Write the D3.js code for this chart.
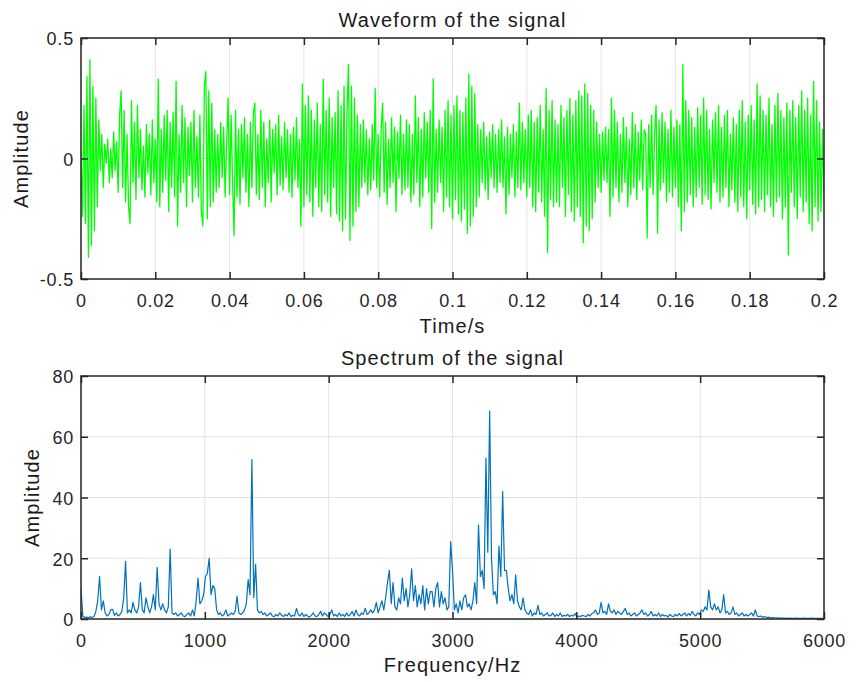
<!DOCTYPE html>
<html>
<head>
<meta charset="utf-8">
<script src="https://cdn.jsdelivr.net/npm/d3@7"></script>
<style>
  body { margin: 0; background: #fff; }
  text { font-family: "Liberation Sans", Arial, sans-serif; }
</style>
</head>
<body>
<svg id="chart" width="859" height="682"></svg>
<script>
// Waveform samples, one every 0.4 ms from 0 to 0.2 s
const waveStep = 0.0004;
const waveAmp = [
  0.03, -0.24, 0.22, -0.27, 0.34, -0.41, 0.41, -0.36, 0.3, -0.3, 0.25, -0.2, 0.16, -0.05, 0.1, -0.12, 0.06, -0.02, 0.08, -0.1,
  0.04, -0.08, 0.11, -0.05, 0.07, -0.14, 0.18, 0.28, -0.12, 0.2, -0.18, 0.1, -0.2, -0.27, 0.24, -0.1, 0.15, -0.17, 0.22, -0.08,
  0.12, -0.13, 0.05, -0.16, 0.14, -0.06, 0.1, -0.15, 0.16, -0.1, 0.08, -0.18, 0.33, -0.2, 0.12, -0.14, 0.18, -0.09, 0.2, -0.22,
  0.15, -0.12, 0.19, -0.16, 0.32, -0.28, 0.1, -0.14, 0.22, -0.1, 0.17, -0.2, 0.13, -0.07, 0.15, -0.18, 0.2, -0.12, 0.09, -0.16,
  0.18, -0.22, -0.28, 0.3, 0.36, -0.25, 0.28, -0.2, 0.23, -0.18, 0.12, -0.14, 0.1, -0.12, 0.15, -0.08, 0.13, -0.16, 0.06, 0.25,
  -0.15, 0.18, -0.1, -0.32, 0.2, -0.16, 0.12, -0.19, 0.14, -0.08, 0.17, -0.14, 0.1, -0.2, 0.15, -0.12, 0.19, 0.23, -0.15, 0.1,
  -0.17, 0.2, -0.12, 0.15, -0.2, 0.08, -0.1, 0.16, -0.18, 0.12, -0.06, 0.14, -0.15, 0.18, -0.11, 0.09, -0.13, 0.15, -0.08, 0.12,
  -0.14, 0.1, -0.16, 0.13, -0.09, 0.17, -0.12, 0.08, -0.28, 0.31, -0.2, 0.22, -0.15, 0.26, -0.18, 0.2, -0.24, 0.16, -0.12, 0.23,
  -0.2, 0.14, -0.22, 0.33, -0.15, 0.2, -0.18, 0.25, -0.24, 0.17, -0.12, 0.19, -0.23, 0.28, -0.26, 0.22, -0.3, 0.3, -0.25, 0.2,
  0.39, -0.34, 0.3, -0.28, 0.25, -0.22, 0.18, -0.2, 0.14, -0.12, 0.16, -0.1, 0.12, -0.15, 0.08, -0.13, 0.14, -0.09, 0.29, -0.12,
  0.1, -0.16, 0.12, 0.23, -0.14, 0.15, -0.19, 0.08, -0.12, 0.17, -0.1, 0.13, -0.22, 0.11, -0.08, 0.18, -0.15, 0.1, -0.13, 0.16,
  -0.12, 0.14, -0.18, 0.1, -0.15, 0.26, -0.1, 0.17, -0.2, 0.12, -0.16, 0.19, -0.08, 0.15, -0.14, 0.2, -0.29, 0.33, -0.18, 0.12,
  -0.14, 0.16, -0.1, 0.13, -0.22, 0.2, -0.16, 0.24, -0.2, 0.18, -0.25, 0.22, -0.17, 0.26, -0.23, 0.2, -0.26, 0.19, -0.21, 0.25,
  -0.31, 0.35, -0.28, 0.3, -0.24, 0.27, -0.2, 0.14, -0.16, 0.12, -0.1, 0.15, -0.13, 0.09, -0.17, 0.11, -0.08, 0.14, -0.12, 0.1,
  -0.14, 0.12, -0.1, 0.16, -0.12, 0.09, -0.23, 0.13, -0.15, 0.1, -0.08, 0.14, -0.16, 0.11, -0.12, 0.23, -0.13, 0.15, -0.1, 0.12,
  -0.16, 0.18, -0.12, 0.2, -0.2, 0.15, -0.22, 0.17, -0.14, 0.22, -0.18, 0.12, -0.24, 0.29, -0.39, 0.2, -0.17, 0.24, -0.2, 0.16,
  -0.18, 0.14, -0.2, 0.22, -0.12, 0.17, -0.24, 0.2, -0.15, 0.25, -0.22, 0.18, -0.26, 0.24, -0.2, 0.28, -0.24, 0.26, -0.35, 0.31,
  -0.28, 0.27, -0.3, 0.22, -0.25, 0.2, -0.18, 0.15, -0.12, 0.1, -0.14, 0.11, -0.09, 0.13, -0.1, 0.12, -0.24, 0.25, -0.16, 0.2,
  -0.12, 0.15, -0.18, 0.1, -0.14, 0.17, -0.1, 0.13, -0.2, 0.08, -0.15, 0.19, -0.12, 0.14, -0.17, 0.11, -0.09, 0.16, -0.13, 0.12,
  0.1, -0.33, 0.14, -0.12, 0.18, -0.15, 0.1, 0.22, -0.31, 0.16, -0.13, 0.19, -0.1, 0.15, -0.18, 0.12, -0.14, 0.2, -0.16, 0.13,
  -0.12, 0.16, -0.2, 0.14, -0.3, 0.39, -0.22, 0.24, -0.18, 0.2, -0.15, 0.17, -0.2, 0.13, -0.16, 0.21, -0.12, 0.18, -0.19, 0.25,
  -0.15, 0.2, -0.17, 0.12, -0.21, 0.16, -0.1, 0.19, -0.14, 0.22, -0.18, 0.13, -0.16, 0.18, -0.12, 0.2, -0.2, 0.1, -0.13, 0.17,
  -0.18, 0.14, -0.22, 0.2, -0.16, 0.24, -0.2, 0.15, -0.25, 0.18, -0.13, 0.22, -0.19, 0.16, -0.23, 0.31, -0.2, 0.26, -0.17, 0.2,
  -0.22, 0.18, -0.15, 0.25, -0.2, 0.14, -0.24, 0.22, -0.18, 0.27, -0.16, 0.2, -0.25, 0.17, -0.2, 0.23, -0.4, 0.2, -0.14, 0.24,
  -0.2, 0.17, -0.25, 0.22, -0.16, 0.28, -0.22, 0.2, -0.18, 0.25, -0.27, 0.18, -0.3, 0.32, -0.2, 0.24, -0.26, 0.15, -0.22, 0.12,
  -0.18
];

// Spectrum magnitudes, one bin every 15 Hz from 0 to 6000 Hz
const specStep = 15;
const specAmp = [
  10, 1, 0.5, 0.6, 0.4, 0.7, 0.5, 0.8, 2.5, 6,
  14, 3, 6, 2, 1, 1.5, 3, 3.2, 1.2, 2,
  1, 1.5, 2.5, 7, 19, 2, 3, 2, 5.5, 3,
  2, 4, 12, 3, 2, 7, 4, 2, 4, 8,
  3, 17, 5, 3, 5, 3, 2, 4, 23, 2,
  1.5, 2, 1, 1.5, 2, 1, 0.8, 1.5, 2, 1,
  3, 1, 6, 13.5, 5, 6, 8, 14, 15, 20,
  8, 11, 10, 3, 1.5, 2, 1, 1.5, 3, 1,
  1.5, 2, 1.5, 2.5, 7.5, 2, 1.5, 2, 3, 5,
  13, 8, 52.5, 7, 18, 3, 2, 2.5, 1.5, 2,
  1, 1.5, 2, 1, 0.8, 1.5, 1, 2, 1.2, 0.8,
  1.5, 1, 2, 0.8, 1.2, 1, 3.5, 1.5, 1, 2,
  0.8, 1.5, 1, 0.6, 1.2, 2, 1, 0.8, 1.5, 2.5,
  1, 2, 1.5, 0.8, 1.5, 3, 1, 1.5, 0.8, 2,
  1, 1.5, 0.8, 2, 1, 1.5, 2.5, 1, 3, 1.5,
  1, 2, 1.5, 3.5, 1.5, 2, 3, 2, 3, 5.5,
  2, 4, 6, 3, 7, 12, 16, 5, 12, 4,
  3, 7, 5, 13.5, 6, 10, 4, 8, 16.5, 6,
  11, 4, 8, 5, 11, 3, 10, 5, 9, 9,
  4, 10, 12, 4, 9, 5, 7, 3, 4, 25.5,
  16, 3, 5, 2, 6, 3, 7, 8, 4, 5,
  3, 6, 12, 5, 31, 14, 16, 10, 53, 22,
  68.5, 20, 8, 9, 5, 24, 14, 42, 16, 16,
  10, 6, 8, 5, 14.5, 6, 4, 3, 7, 3,
  2, 1.5, 3, 1, 2, 1.5, 4.5, 1.5, 2, 1,
  1.5, 2, 1, 1.2, 2, 0.8, 1.5, 1, 2, 0.8,
  1.2, 1, 1.5, 0.8, 1.2, 1, 1.8, 0.6, 1, 0.8,
  1.2, 1, 0.8, 1.5, 1, 1.8, 2, 3, 1.5, 2,
  5.5, 2, 2.5, 1.5, 5, 2.5, 2, 3, 1.5, 2.5,
  2, 1.5, 2.5, 3.5, 1.5, 2, 1, 1.5, 2, 1,
  1.5, 2, 3, 1.5, 2, 1, 1.5, 2.5, 1, 1.5,
  1, 2, 0.8, 1.5, 1, 1.2, 0.6, 1.5, 1, 0.8,
  1.5, 1, 1.8, 1, 1.5, 2, 1, 1.8, 1.2, 2.5,
  1.5, 1, 2, 1.5, 3, 2.5, 4, 3, 9.5, 4,
  3, 5, 3, 4, 2, 3, 8, 2, 2.5, 1.5,
  2, 4, 1.5, 2, 1, 1.5, 2, 1, 1.5, 1,
  1.5, 2, 1, 3, 1, 0.8, 1, 0.6, 0.8, 0.5,
  0.6, 0.4, 0.5, 0.4, 0.3, 0.4, 0.3, 0.3, 0.3, 0.2,
  0.3, 0.2, 0.3, 0.2, 0.2, 0.3, 0.2, 0.2, 0.2, 0.3,
  0.2, 0.2, 0.2, 0.3, 0.2, 0.2, 0.2, 0.2, 0.2, 0.2,
  0.2
];

// Ticks
const waveXTicks = [0, 0.02, 0.04, 0.06, 0.08, 0.1, 0.12, 0.14, 0.16, 0.18, 0.2];
const waveXLabels = ["0", "0.02", "0.04", "0.06", "0.08", "0.1", "0.12", "0.14", "0.16", "0.18", "0.2"];
const waveYTicks = [-0.5, 0, 0.5];
const waveYLabels = ["-0.5", "0", "0.5"];
const specXTicks = [0, 1000, 2000, 3000, 4000, 5000, 6000];
const specXLabels = ["0", "1000", "2000", "3000", "4000", "5000", "6000"];
const specYTicks = [0, 20, 40, 60, 80];
const specYLabels = ["0", "20", "40", "60", "80"];

const svg = d3.select("#chart");
const left = 81, right = 824;
const axisColor = "#262626";
const gridColor = "#e3e3e3";

function drawPanel(p) {
  const x = d3.scaleLinear().domain(p.xDomain).range([left, right]);
  const y = d3.scaleLinear().domain(p.yDomain).range([p.bottom, p.top]);
  const g = svg.append("g");

  // grid
  g.append("g").selectAll("line").data(p.xTicks).join("line")
    .attr("x1", d => x(d)).attr("x2", d => x(d))
    .attr("y1", p.top).attr("y2", p.bottom)
    .attr("stroke", gridColor).attr("stroke-width", 1);
  g.append("g").selectAll("line").data(p.yTicks).join("line")
    .attr("x1", left).attr("x2", right)
    .attr("y1", d => y(d)).attr("y2", d => y(d))
    .attr("stroke", gridColor).attr("stroke-width", 1);

  // data
  g.append("clipPath").attr("id", p.id + "-clip")
    .append("rect").attr("x", left).attr("y", p.top)
    .attr("width", right - left).attr("height", p.bottom - p.top);

  const line = d3.line()
    .x((d, i) => x(i * p.step))
    .y(d => y(d));

  g.append("path")
    .datum(p.values)
    .attr("clip-path", `url(#${p.id}-clip)`)
    .attr("d", line)
    .attr("fill", "none")
    .attr("stroke", p.color)
    .attr("stroke-width", p.lineWidth)
    .attr("stroke-linejoin", "round");

  // box
  g.append("rect")
    .attr("x", left).attr("y", p.top)
    .attr("width", right - left).attr("height", p.bottom - p.top)
    .attr("fill", "none").attr("stroke", axisColor).attr("stroke-width", 1.5);

  // axes with inward ticks
  const styleAxis = sel => {
    sel.select(".domain").remove();
    sel.selectAll(".tick line").attr("stroke", axisColor).attr("stroke-width", 1.5);
    sel.selectAll(".tick text")
      .attr("fill", axisColor)
      .style("font-size", "18px")
      .style("letter-spacing", "0.8px")
      .style("font-family", '"Liberation Sans", Arial, sans-serif');
  };

  g.append("g").attr("transform", `translate(0,${p.bottom})`)
    .call(d3.axisBottom(x).tickValues(p.xTicks).tickFormat((d, i) => p.xLabels[i])
      .tickSize(-7).tickPadding(15))
    .call(styleAxis);
  g.append("g").attr("transform", `translate(0,${p.top})`)
    .call(d3.axisTop(x).tickValues(p.xTicks).tickFormat("").tickSize(-7))
    .call(styleAxis);
  g.append("g").attr("transform", `translate(${left},0)`)
    .call(d3.axisLeft(y).tickValues(p.yTicks).tickFormat((d, i) => p.yLabels[i])
      .tickSize(-7).tickPadding(7))
    .call(styleAxis)
    .selectAll(".tick text").attr("dy", "0.38em");
  g.append("g").attr("transform", `translate(${right},0)`)
    .call(d3.axisRight(y).tickValues(p.yTicks).tickFormat("").tickSize(-7))
    .call(styleAxis);

  // titles
  const label = (sel) => sel
    .attr("fill", "#1a1a1a")
    .style("font-size", "20px")
    .style("letter-spacing", "1.1px");

  g.append("text")
    .attr("x", (left + right) / 2).attr("y", p.top - 11)
    .attr("text-anchor", "middle")
    .text(p.title).call(label);
  g.append("text")
    .attr("x", (left + right) / 2).attr("y", p.xTitleY)
    .attr("text-anchor", "middle")
    .text(p.xTitle).call(label);
  g.append("text")
    .attr("transform", `translate(${p.yTitleX},${(p.top + p.bottom) / 2}) rotate(-90)`)
    .attr("text-anchor", "middle")
    .text(p.yTitle).call(label);
}

drawPanel({
  id: "wave", top: 38, bottom: 279,
  xDomain: [0, 0.2], yDomain: [-0.5, 0.5],
  xTicks: waveXTicks, xLabels: waveXLabels,
  yTicks: waveYTicks, yLabels: waveYLabels,
  values: waveAmp, step: waveStep,
  color: "#00ff00", lineWidth: 1.3,
  title: "Waveform of the signal", xTitle: "Time/s", yTitle: "Amplitude",
  xTitleY: 333, yTitleX: 28
});

drawPanel({
  id: "spec", top: 376, bottom: 619,
  xDomain: [0, 6000], yDomain: [0, 80],
  xTicks: specXTicks, xLabels: specXLabels,
  yTicks: specYTicks, yLabels: specYLabels,
  values: specAmp, step: specStep,
  color: "#0072bd", lineWidth: 1.2,
  title: "Spectrum of the signal", xTitle: "Frequency/Hz", yTitle: "Amplitude",
  xTitleY: 672, yTitleX: 39
});
</script>
</body>
</html>
